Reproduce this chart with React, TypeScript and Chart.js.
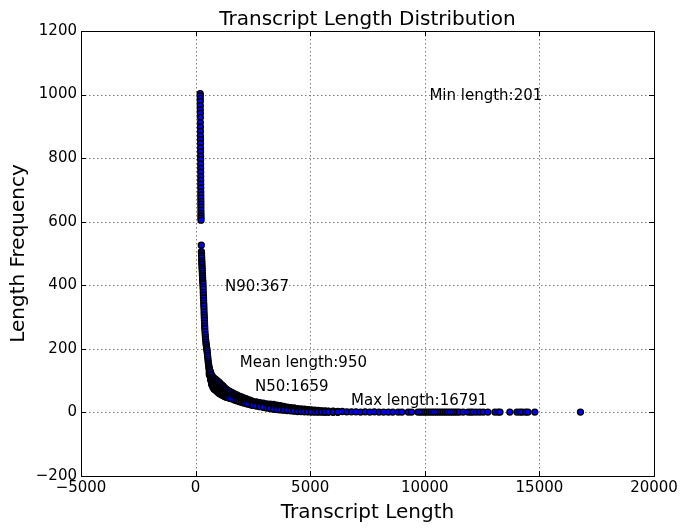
import React, { useEffect, useRef } from "react";
import { Chart, registerables } from "chart.js";

Chart.register(...registerables);

// ---- data ----
const headLengths = [201, 202, 203, 204, 205, 206, 207, 208, 209, 210, 211, 212, 213, 214, 215, 216, 217, 218, 219, 220, 221, 222, 223, 224, 225, 226, 227, 228, 229, 230, 231, 232, 233, 234, 235, 236];
const headFreqs = [1003, 996, 988, 978, 965, 952, 941, 928, 912, 898, 884, 870, 858, 846, 832, 820, 806, 795, 781, 768, 756, 742, 730, 718, 706, 694, 684, 674, 664, 655, 646, 636, 626, 618, 611, 605];

const curveLengths = [248, 253, 257, 261, 265, 269, 273, 277, 281, 285, 290, 295, 300, 305, 310, 315, 320, 325, 330, 335, 340, 345, 350, 355, 360, 365, 370, 375, 380, 385, 390, 395, 400, 410, 420, 430, 440, 450, 460, 470, 480, 490, 500, 510, 520, 530, 540, 550, 560, 570, 580, 590];
const curveFreqs = [526, 506, 500, 493, 486, 478, 471, 465, 458, 452, 445, 437, 430, 423, 416, 410, 404, 396, 388, 378, 369, 360, 352, 343, 335, 326, 316, 307, 299, 290, 281, 272, 264, 254, 244, 236, 229, 221, 215, 210, 204, 199, 194, 187, 180, 174, 167, 160, 154, 149, 144, 139];

const bandLengths = [600, 650, 700, 750, 800, 850, 900, 950, 1000, 1050, 1100, 1150, 1200, 1250, 1300, 1350, 1400, 1500, 1600, 1700, 1800, 1900, 2000, 2100, 2200, 2300, 2400, 2500, 2650, 2800, 2950, 3100, 3250, 3400, 3550, 3700, 3850, 4000, 4150, 4300, 4450, 4600, 4750, 4900, 5050, 5200, 5350, 5500, 5650, 5800, 6000, 6200];
const bandUpper = [138, 128, 118, 112, 108, 105, 102, 99, 96, 93, 89, 86, 83, 79, 75, 72, 70, 66, 62, 58, 55, 51, 49, 46, 43, 40, 38, 35, 33, 31, 29, 27, 26, 25, 23, 21, 19, 17, 15, 14, 12, 11, 10, 9, 8, 7, 6, 5, 5, 4, 4, 3];
const bandHigh = [133, 121, 110, 104, 100, 97, 93, 91, 87, 85, 81, 78, 75, 72, 69, 66, 64, 61, 57, 54, 50, 47, 45, 42, 39, 37, 34, 32, 30, 28, 26, 24, 22, 21, 19, 17, 16, 14, 13, 11, 10, 9, 8, 7, 6, 5, 5, 4, 3, 3, 3, 2];
const bandMid = [128, 115, 103, 96, 92, 88, 85, 82, 79, 76, 73, 70, 67, 64, 62, 60, 58, 55, 52, 49, 46, 43, 41, 38, 36, 33, 31, 29, 27, 25, 23, 21, 19, 17, 15, 14, 12, 11, 10, 9, 8, 7, 6, 5, 4, 4, 3, 3, 2, 2, 2, 2];
const bandLow = [123, 109, 95, 88, 83, 80, 76, 74, 70, 68, 65, 62, 60, 57, 56, 54, 52, 50, 47, 44, 42, 38, 37, 34, 32, 29, 28, 25, 24, 21, 20, 17, 16, 13, 12, 11, 9, 8, 7, 6, 5, 5, 4, 3, 3, 2, 2, 2, 1, 2, 1, 1];
const bandLower = [118, 103, 88, 80, 74, 71, 68, 65, 62, 59, 57, 55, 53, 51, 49, 48, 47, 44, 42, 39, 37, 34, 32, 30, 28, 26, 24, 22, 20, 18, 16, 14, 12, 10, 9, 8, 7, 6, 5, 4, 3, 3, 2, 2, 1, 1, 1, 1, 1, 1, 1, 1];

const tailLengths = [6400, 6600, 6800, 7000, 7200, 7400, 7600, 7800, 8000, 8200, 8410, 8600, 8840, 9000, 9280, 9420, 9700, 9800, 9900, 10000, 10100, 10200, 10300, 10400, 10500, 10600, 10700, 10800, 10900, 11000, 11100, 11200, 11300, 11400, 11500, 11670, 11890, 12000, 12100, 12250, 12400, 12550, 12750, 13060, 13200, 13280, 13710, 14020, 14150, 14250, 14400, 14500, 14800, 16791];
const tailFreqs = [3, 2, 2, 2, 1, 2, 1, 2, 1, 1, 1, 1, 1, 1, 1, 1, 1, 1, 1, 1, 1, 1, 1, 1, 1, 1, 1, 1, 1, 1, 1, 1, 1, 1, 1, 1, 1, 1, 1, 1, 1, 1, 1, 1, 1, 1, 1, 1, 1, 1, 1, 1, 1, 1];

const xTicks = [-5000, 0, 5000, 10000, 15000, 20000];
const yTicks = [-200, 0, 200, 400, 600, 800, 1000, 1200];

const annoTexts = ["Min length:201", "N90:367", "Mean length:950", "N50:1659", "Max length:16791"];
const annoX = [10200, 1280, 1930, 2590, 6780];
const annoY = [1000, 400, 160, 85, 42];

const titleText = "Transcript Length Distribution";
const xTitle = "Transcript Length";
const yTitle = "Length Frequency";

const FONT = "'DejaVu Sans', sans-serif";

function buildPoints() {
  const pts: { x: number; y: number }[] = [];
  headLengths.forEach((l, i) => pts.push({ x: l, y: headFreqs[i] }));
  curveLengths.forEach((l, i) => pts.push({ x: l, y: curveFreqs[i] }));
  bandLengths.forEach((l, i) => {
    pts.push({ x: l, y: bandUpper[i] });
    pts.push({ x: l, y: bandHigh[i] });
    pts.push({ x: l, y: bandMid[i] });
    pts.push({ x: l, y: bandLow[i] });
    pts.push({ x: l, y: bandLower[i] });
  });
  tailLengths.forEach((l, i) => pts.push({ x: l, y: tailFreqs[i] }));
  return pts;
}

const decorPlugin = {
  id: "decor",
  beforeDatasetsDraw(chart: any) {
    const { ctx, chartArea: a, scales } = chart;
    ctx.save();
    ctx.strokeStyle = "#808080";
    ctx.lineWidth = 1;
    ctx.setLineDash([1.5, 2.5]);
    xTicks.forEach((v) => {
      const px = Math.round(scales.x.getPixelForValue(v)) + 0.5;
      if (px <= a.left + 1 || px >= a.right - 1) return;
      ctx.beginPath();
      ctx.moveTo(px, a.top);
      ctx.lineTo(px, a.bottom);
      ctx.stroke();
    });
    yTicks.forEach((v) => {
      const py = Math.round(scales.y.getPixelForValue(v)) + 0.5;
      if (py <= a.top + 1 || py >= a.bottom - 1) return;
      ctx.beginPath();
      ctx.moveTo(a.left, py);
      ctx.lineTo(a.right, py);
      ctx.stroke();
    });
    ctx.restore();
  },
  afterDraw(chart: any) {
    const { ctx, chartArea: a, scales } = chart;
    ctx.save();
    // frame
    ctx.strokeStyle = "#000";
    ctx.lineWidth = 1;
    ctx.setLineDash([]);
    ctx.strokeRect(Math.round(a.left) + 0.5, Math.round(a.top) + 0.5, Math.round(a.right - a.left), Math.round(a.bottom - a.top));
    // inward ticks
    const tl = 5;
    ctx.beginPath();
    xTicks.forEach((v) => {
      const px = Math.round(scales.x.getPixelForValue(v)) + 0.5;
      ctx.moveTo(px, a.bottom);
      ctx.lineTo(px, a.bottom - tl);
      ctx.moveTo(px, a.top);
      ctx.lineTo(px, a.top + tl);
    });
    yTicks.forEach((v) => {
      const py = Math.round(scales.y.getPixelForValue(v)) + 0.5;
      ctx.moveTo(a.left, py);
      ctx.lineTo(a.left + tl, py);
      ctx.moveTo(a.right, py);
      ctx.lineTo(a.right - tl, py);
    });
    ctx.stroke();

    ctx.fillStyle = "#000";
    // annotations
    ctx.font = `15px ${FONT}`;
    ctx.textAlign = "left";
    ctx.textBaseline = "middle";
    annoTexts.forEach((t, i) => {
      ctx.fillText(t, scales.x.getPixelForValue(annoX[i]), scales.y.getPixelForValue(annoY[i]) + 2);
    });
    // title
    const cx = (a.left + a.right) / 2;
    ctx.textAlign = "center";
    ctx.textBaseline = "alphabetic";
    ctx.font = `20px ${FONT}`;
    ctx.fillText(titleText, cx, 25);
    // x axis title
    ctx.fillText(xTitle, cx, 518);
    // y axis title
    ctx.save();
    ctx.translate(24, (a.top + a.bottom) / 2);
    ctx.rotate(-Math.PI / 2);
    ctx.fillText(yTitle, 0, 0);
    ctx.restore();
    ctx.restore();
  },
};

export default function App() {
  const ref = useRef<HTMLCanvasElement | null>(null);
  useEffect(() => {
    if (!ref.current) return;
    const chart = new Chart(ref.current, {
      type: "scatter",
      data: {
        datasets: [
          {
            data: buildPoints(),
            backgroundColor: "#0000ff",
            borderColor: "#000000",
            borderWidth: 1.3,
            pointRadius: 3,
            pointHoverRadius: 3,
          },
        ],
      },
      options: {
        animation: false,
        responsive: false,
        devicePixelRatio: 1,
        layout: { padding: { top: 31, right: 27, left: 0, bottom: 0 } },
        plugins: { legend: { display: false }, tooltip: { enabled: false }, title: { display: false } },
        scales: {
          x: {
            type: "linear",
            min: -5000,
            max: 20000,
            afterBuildTicks: (s: any) => {
              s.ticks = xTicks.map((v) => ({ value: v }));
            },
            afterFit: (s: any) => {
              s.height = 53;
            },
            grid: { display: false, drawTicks: false },
            border: { display: false },
            ticks: {
              color: "#000",
              font: { family: FONT, size: 15 },
              padding: 3,
              maxRotation: 0,
              autoSkip: false,
              callback: (v: any) => String(v).replace("-", "\u2212"),
            },
          },
          y: {
            type: "linear",
            min: -200,
            max: 1200,
            afterBuildTicks: (s: any) => {
              s.ticks = yTicks.map((v) => ({ value: v }));
            },
            afterFit: (s: any) => {
              s.width = 81;
            },
            grid: { display: false, drawTicks: false },
            border: { display: false },
            ticks: {
              color: "#000",
              font: { family: FONT, size: 15 },
              padding: 4,
              autoSkip: false,
              callback: (v: any) => String(v).replace("-", "\u2212"),
            },
          },
        },
      },
      plugins: [decorPlugin],
    });
    return () => chart.destroy();
  }, []);
  return (
    <div style={{ position: "absolute", left: 0, top: 0, width: 681, height: 529, background: "#fff" }}>
      <canvas ref={ref} width={681} height={529} style={{ display: "block" }} />
    </div>
  );
}
